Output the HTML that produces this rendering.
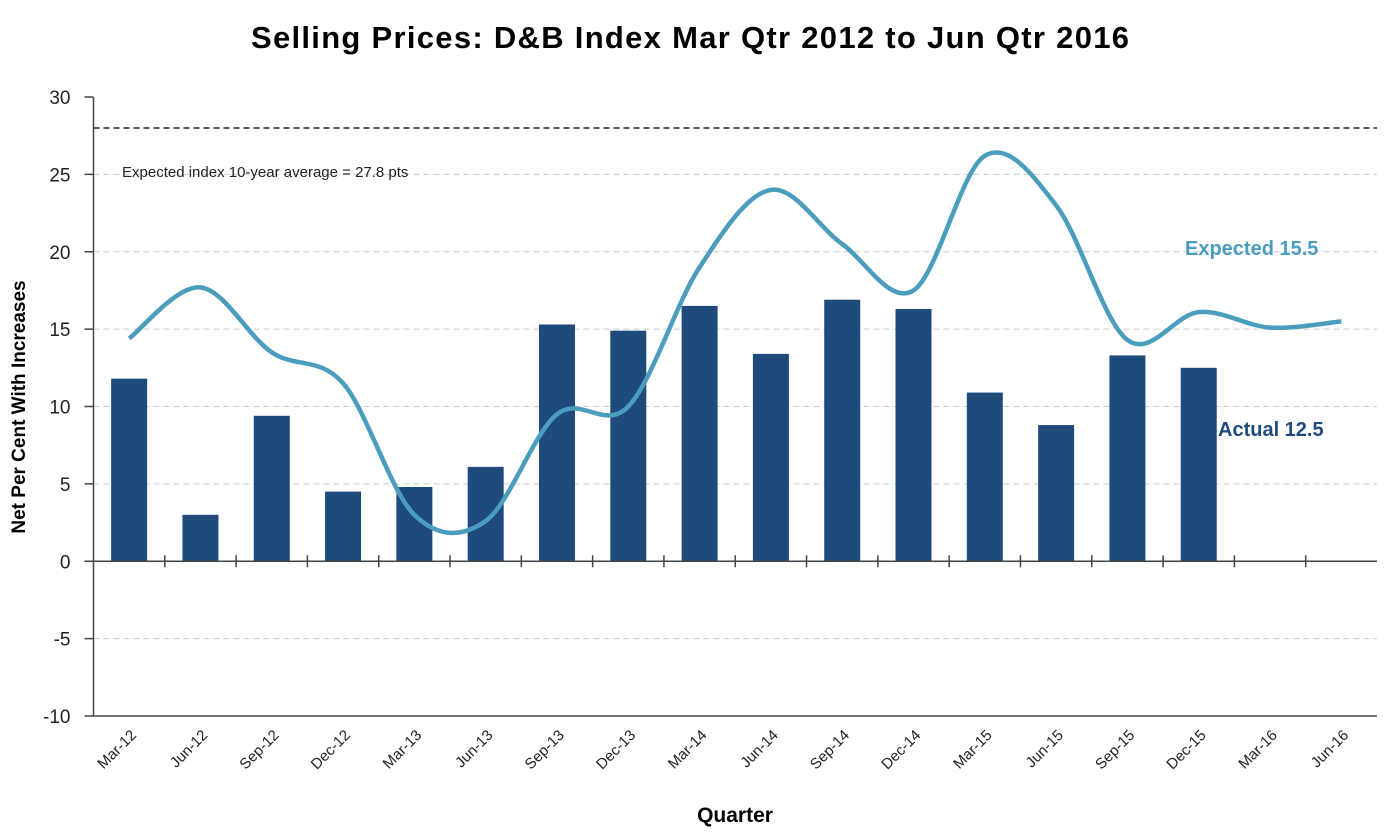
<!DOCTYPE html>
<html><head><meta charset="utf-8"><style>
body{margin:0;background:#fff;font-family:"Liberation Sans",sans-serif}
svg text{font-family:"Liberation Sans",sans-serif}
</style></head><body>
<svg id="c" width="1396" height="831" viewBox="0 0 1396 831">
<text x="690" y="48" text-anchor="middle" font-size="31" font-weight="bold" fill="#000" textLength="878">Selling Prices: D&amp;B Index Mar Qtr 2012 to Jun Qtr 2016</text>
<text transform="translate(25,407) rotate(-90)" text-anchor="middle" font-size="19" font-weight="bold">Net Per Cent With Increases</text>
<text x="735" y="822" text-anchor="middle" font-size="21" font-weight="bold">Quarter</text>
<g id="grid"></g><g id="bars"></g><g id="axes"></g>
<text x="122" y="177" font-size="15" fill="#222">Expected index 10-year average = 27.8 pts</text>
<text x="1185" y="255" font-size="20" font-weight="bold" fill="#4a9dbd">Expected 15.5</text>
<text x="1218" y="436" font-size="20" font-weight="bold" fill="#1f4a7c">Actual 12.5</text>
</svg>
<script>
const categories=["Mar-12","Jun-12","Sep-12","Dec-12","Mar-13","Jun-13","Sep-13","Dec-13","Mar-14","Jun-14","Sep-14","Dec-14","Mar-15","Jun-15","Sep-15","Dec-15","Mar-16","Jun-16"];
const actual=[11.8,3.0,9.4,4.5,4.8,6.1,15.3,14.9,16.5,13.4,16.9,16.3,10.9,8.8,13.3,12.5,null,null];
const expected=[14.4,17.7,13.5,11.5,3.0,2.6,9.5,10.0,19.0,24.0,20.5,17.5,26.2,23.0,14.3,16.1,15.1,15.5];
const yTicks=[30,25,20,15,10,5,0,-5,-10];
const average=[28];
const NS="http://www.w3.org/2000/svg";
const L=93.5,R=1377,T=97,B=716,ymin=-10,ymax=30;
const bw=(R-L)/categories.length;
const y=v=>B-(v-ymin)/(ymax-ymin)*(B-T);
const xc=i=>L+bw*(i+0.5);
function mk(tag,attrs,parent){const e=document.createElementNS(NS,tag);for(const k in attrs)e.setAttribute(k,attrs[k]);parent.appendChild(e);return e;}
const grid=document.getElementById('grid'),bars=document.getElementById('bars'),axes=document.getElementById('axes'),svg=document.getElementById('c');
yTicks.forEach(t=>{
  if(t!==0&&t!==ymin&&t!==ymax){const g=mk('line',{x1:L,x2:R,y1:y(t),y2:y(t),stroke:'#ccc','stroke-dasharray':'6,4','stroke-width':1},grid);
  }
  const tk=mk('line',{x1:L-9,x2:L,y1:y(t),y2:y(t),stroke:'#444','stroke-width':1.5},axes);
  
  const tx=mk('text',{x:L-23,y:y(t)+7,'text-anchor':'end','font-size':19,fill:'#222'},axes);tx.textContent=t;
  
});
average.forEach(a=>{const d=mk('line',{x1:L,x2:R,y1:y(a),y2:y(a),stroke:'#222','stroke-dasharray':'6,4','stroke-width':1.5},grid);
});
actual.forEach((v,i)=>{if(v==null)return;const r=mk('rect',{x:xc(i)-18,width:36,y:Math.min(y(v),y(0)),height:Math.abs(y(0)-y(v)),fill:'#1f4a7c'},bars);
});
let a=mk('line',{x1:L,x2:L,y1:T,y2:B,stroke:'#444','stroke-width':1.5},axes);
a=mk('line',{x1:L,x2:R,y1:y(0),y2:y(0),stroke:'#444','stroke-width':1.5},axes);
a=mk('line',{x1:L,x2:R,y1:B,y2:B,stroke:'#444','stroke-width':1.5},axes);
categories.forEach((c,i)=>{
  if(i>0){const tk=mk('line',{x1:L+bw*i,x2:L+bw*i,y1:y(0)-6,y2:y(0)+6,stroke:'#444','stroke-width':1.5},axes);
  }
  const t=mk('text',{transform:`translate(${xc(i)+8},${B+20}) rotate(-45)`,'text-anchor':'end','font-size':15,fill:'#222'},axes);t.textContent=c;
  
});
const pts=expected.map((v,i)=>[xc(i),y(v)]);
let d=`M${pts[0][0]},${pts[0][1]}`;
for(let i=0;i<pts.length-1;i++){const p0=pts[Math.max(0,i-1)],p1=pts[i],p2=pts[i+1],p3=pts[Math.min(pts.length-1,i+2)];
const k=1/6;d+=` C${p1[0]+(p2[0]-p0[0])*k},${p1[1]+(p2[1]-p0[1])*k} ${p2[0]-(p3[0]-p1[0])*k},${p2[1]-(p3[1]-p1[1])*k} ${p2[0]},${p2[1]}`;}
const ln=mk('path',{d:d,fill:'none',stroke:'#4a9dbd','stroke-width':4.5},svg);

</script>
</body></html>
